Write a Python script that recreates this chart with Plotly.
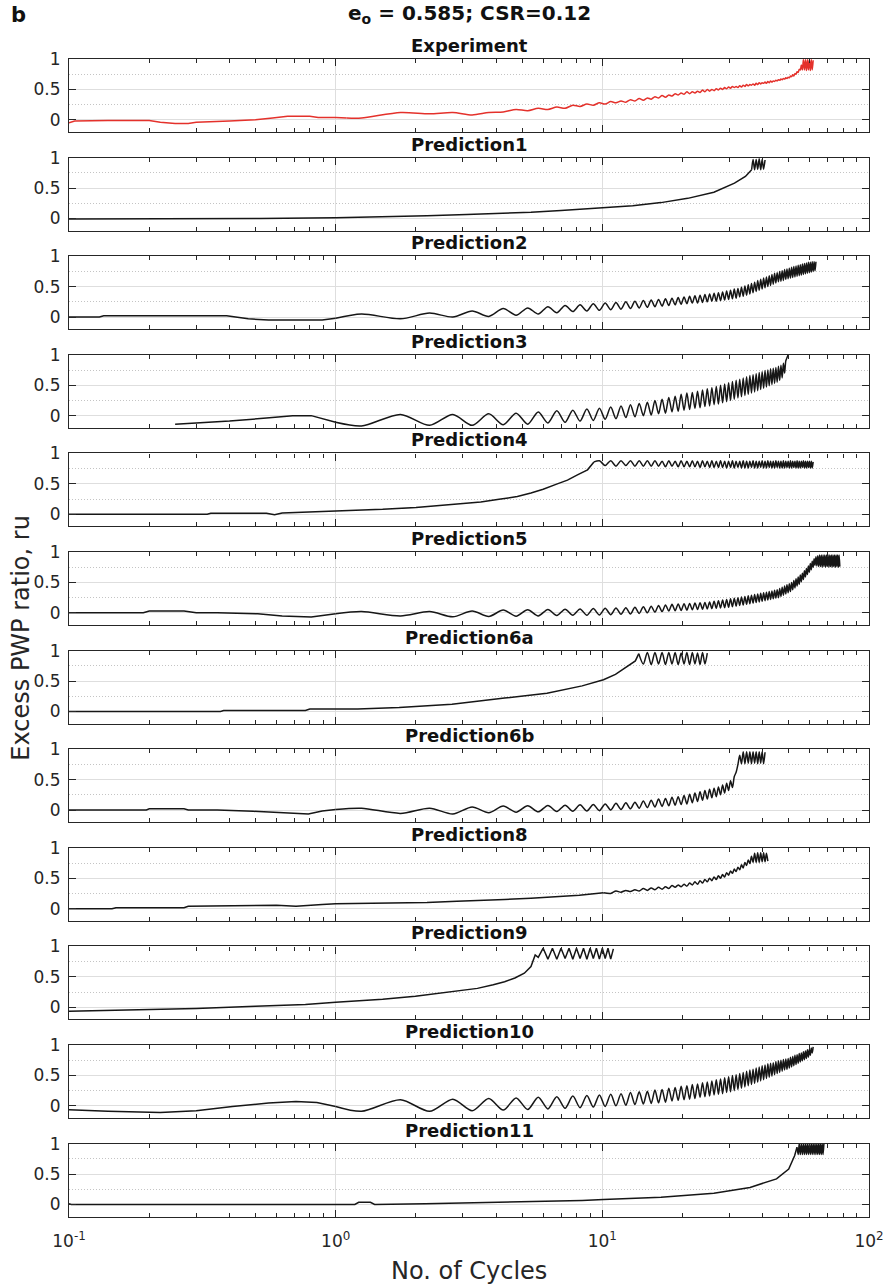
import plotly.graph_objects as go

# ---------------------------------------------------------------------------
# Data: excess pore-water-pressure ratio ru vs. number of loading cycles
# ---------------------------------------------------------------------------
TITLES = ["Experiment", "Prediction1", "Prediction2", "Prediction3", "Prediction4",
          "Prediction5", "Prediction6a", "Prediction6b", "Prediction8", "Prediction9",
          "Prediction10", "Prediction11"]

X_TICKS = [0.1, 1, 10, 100]
X_TICK_TEXT = ["10<sup>-1</sup>", "10<sup>0</sup>", "10<sup>1</sup>", "10<sup>2</sup>"]
Y_TICKS = [0, 0.5, 1]
Y_TICK_TEXT = ["0", "0.5", "1"]
Y_MINOR = [0.25, 0.75]

# half-cycle sampling points (cycles) used for the cyclic part of each record
HALF_CYCLES = [
    0.25, 0.75, 1.25, 1.75, 2.25, 2.75, 3.25, 3.75, 4.25, 4.75,
    5.25, 5.75, 6.25, 6.75, 7.25, 7.75, 8.25, 8.75, 9.25, 9.75,
    10.25, 10.75, 11.25, 11.75, 12.25, 12.75, 13.25, 13.75, 14.25, 14.75,
    15.25, 15.75, 16.25, 16.75, 17.25, 17.75, 18.25, 18.75, 19.25, 19.75,
    20.25, 20.75, 21.25, 21.75, 22.25, 22.75, 23.25, 23.75, 24.25, 24.75,
    25.25, 25.75, 26.25, 26.75, 27.25, 27.75, 28.25, 28.75, 29.25, 29.75,
    30.25, 30.75, 31.25, 31.75, 32.25, 32.75, 33.25, 33.75, 34.25, 34.75,
    35.25, 35.75, 36.25, 36.75, 37.25, 37.75, 38.25, 38.75, 39.25, 39.75,
    40.25, 40.75, 41.25, 41.75, 42.25, 42.75, 43.25, 43.75, 44.25, 44.75,
    45.25, 45.75, 46.25, 46.75, 47.25, 47.75, 48.25, 48.75, 49.25, 49.75,
    50.25, 50.75, 51.25, 51.75, 52.25, 52.75, 53.25, 53.75, 54.25, 54.75,
    55.25, 55.75, 56.25, 56.75, 57.25, 57.75, 58.25, 58.75, 59.25, 59.75,
    60.25, 60.75, 61.25, 61.75, 62.25, 62.75, 63.25, 63.75, 64.25, 64.75,
    65.25, 65.75, 66.25, 66.75, 67.25, 67.75, 68.25, 68.75, 69.25, 69.75,
    70.25, 70.75, 71.25, 71.75, 72.25, 72.75, 73.25, 73.75, 74.25, 74.75,
    75.25, 75.75, 76.25, 76.75, 77.25, 77.75, 78.25, 78.75, 79.25, 79.75,
]

# Experiment
EXP_N = [0.1, 0.105, 0.14, 0.2, 0.22, 0.25, 0.28, 0.3, 0.4, 0.5, 0.58, 0.66, 0.8, 0.86, 1.0, 1.1]
EXP_RU = [-0.05, -0.02, -0.01, -0.01, -0.04, -0.06, -0.06, -0.04, -0.02, 0.0, 0.03, 0.06, 0.06, 0.04, 0.04, 0.03]
EXP_OSC_START = 1.25
EXP_OSC = [
    0.03, 0.12, 0.10, 0.12, 0.08, 0.12, 0.13, 0.17, 0.15, 0.19,
    0.17, 0.21, 0.19, 0.24, 0.22, 0.26, 0.24, 0.28, 0.26, 0.30,
    0.28, 0.31, 0.29, 0.33, 0.31, 0.35, 0.32, 0.36, 0.34, 0.38,
    0.36, 0.40, 0.37, 0.41, 0.39, 0.43, 0.41, 0.44, 0.42, 0.46,
    0.43, 0.46, 0.44, 0.47, 0.45, 0.49, 0.46, 0.50, 0.47, 0.50,
    0.48, 0.51, 0.49, 0.52, 0.50, 0.53, 0.51, 0.54, 0.52, 0.55,
    0.53, 0.55, 0.53, 0.56, 0.54, 0.57, 0.55, 0.58, 0.56, 0.58,
    0.57, 0.59, 0.57, 0.60, 0.58, 0.61, 0.59, 0.61, 0.60, 0.62,
    0.60, 0.63, 0.61, 0.64, 0.62, 0.64, 0.63, 0.65, 0.64, 0.66,
    0.65, 0.67, 0.66, 0.68, 0.67, 0.69, 0.68, 0.70, 0.69, 0.72,
    0.71, 0.74, 0.72, 0.76, 0.75, 0.79, 0.78, 0.83, 0.82, 0.90,
    0.82, 0.99, 0.82, 0.99, 0.81, 0.99, 0.82, 0.99, 0.81, 0.99, 0.82, 0.98,
]

# Prediction1
P1_N = [0.1, 0.5, 0.52, 1.0, 1.52, 2.2, 3.1, 4.2, 5.4, 7.0, 10.1, 13.0, 16.6, 20.9, 26.2, 31.3, 34.4, 36.3]
P1_RU = [-0.01, -0.01, 0.0, 0.01, 0.025, 0.045, 0.065, 0.085, 0.1, 0.13, 0.17, 0.21, 0.26, 0.33, 0.43, 0.58, 0.69, 0.8]
P1_OSC_START = 36.75
P1_OSC = [0.97, 0.8, 0.97, 0.81, 0.98, 0.8, 0.97, 0.81, 0.96]

# Prediction2
P2_N = [0.1, 0.13, 0.135, 0.39, 0.47, 0.56, 0.89, 1.0]
P2_RU = [0.0, 0.0, 0.02, 0.02, -0.03, -0.05, -0.05, -0.02]
P2_OSC_START = 1.25
P2_OSC = [
    0.05, -0.03, 0.065, 0.0, 0.10, 0.01, 0.14, 0.03, 0.15, 0.05,
    0.17, 0.07, 0.19, 0.09, 0.20, 0.10, 0.22, 0.11, 0.23, 0.12,
    0.24, 0.13, 0.25, 0.14, 0.26, 0.15, 0.27, 0.16, 0.28, 0.17,
    0.29, 0.18, 0.30, 0.19, 0.31, 0.20, 0.32, 0.21, 0.33, 0.22,
    0.34, 0.23, 0.35, 0.23, 0.36, 0.24, 0.37, 0.25, 0.38, 0.26,
    0.39, 0.26, 0.40, 0.27, 0.41, 0.28, 0.43, 0.29, 0.44, 0.30,
    0.46, 0.31, 0.47, 0.33, 0.49, 0.34, 0.51, 0.36, 0.53, 0.38,
    0.55, 0.40, 0.57, 0.42, 0.60, 0.44, 0.62, 0.46, 0.64, 0.48,
    0.66, 0.50, 0.68, 0.52, 0.70, 0.54, 0.72, 0.56, 0.73, 0.58,
    0.75, 0.59, 0.76, 0.60, 0.78, 0.62, 0.79, 0.63, 0.80, 0.64,
    0.82, 0.65, 0.83, 0.66, 0.84, 0.67, 0.85, 0.68, 0.86, 0.69,
    0.87, 0.70, 0.88, 0.71, 0.89, 0.72, 0.90, 0.73, 0.90, 0.74,
    0.91, 0.75, 0.91, 0.76, 0.91,
]

# Prediction3
P3_N = [0.25, 0.4, 0.55, 0.69, 0.81, 1.0]
P3_RU = [-0.14, -0.09, -0.04, 0.0, 0.0, -0.11]
P3_OSC_START = 1.25
P3_OSC = [
    -0.17, 0.02, -0.16, 0.02, -0.16, 0.03, -0.15, 0.04, -0.14, 0.06,
    -0.12, 0.08, -0.11, 0.09, -0.09, 0.11, -0.08, 0.12, -0.06, 0.14,
    -0.05, 0.16, -0.03, 0.18, -0.02, 0.20, 0.0, 0.22, 0.01, 0.25,
    0.03, 0.27, 0.04, 0.30, 0.06, 0.32, 0.07, 0.35, 0.09, 0.37,
    0.10, 0.38, 0.12, 0.40, 0.13, 0.42, 0.15, 0.44, 0.16, 0.46,
    0.18, 0.48, 0.19, 0.50, 0.21, 0.52, 0.23, 0.54, 0.25, 0.56,
    0.27, 0.58, 0.29, 0.60, 0.31, 0.62, 0.33, 0.64, 0.35, 0.66,
    0.37, 0.67, 0.39, 0.69, 0.41, 0.71, 0.43, 0.72, 0.45, 0.74,
    0.47, 0.75, 0.49, 0.77, 0.51, 0.78, 0.53, 0.79, 0.55, 0.81,
    0.58, 0.83, 0.62, 0.86, 0.70, 0.90, 0.95, 1.0,
]

# Prediction4
P4_N = [0.1, 0.33, 0.34, 0.55, 0.59, 0.63, 1.0, 1.5, 2.0, 2.85, 3.5, 4.1, 4.8, 5.4, 6.0, 6.7, 7.4, 8.1, 8.8, 9.3]
P4_RU = [0.0, 0.0, 0.015, 0.015, -0.01, 0.02, 0.055, 0.08, 0.11, 0.16, 0.2, 0.245, 0.29, 0.35, 0.41, 0.49, 0.56, 0.65, 0.73, 0.86]
P4_OSC_START = 9.75
P4_OSC = [
    0.88,
    0.80, 0.88, 0.79, 0.88, 0.80, 0.88, 0.79, 0.88, 0.79, 0.88,
    0.79, 0.88, 0.79, 0.87, 0.78, 0.88, 0.79, 0.87, 0.78, 0.88,
    0.78, 0.87, 0.78, 0.88, 0.78, 0.87, 0.77, 0.88, 0.78, 0.87,
    0.77, 0.88, 0.77, 0.87, 0.77, 0.88, 0.77, 0.87, 0.76, 0.87,
    0.77, 0.88, 0.76, 0.87, 0.77, 0.87, 0.76, 0.88, 0.76, 0.87,
    0.76, 0.87, 0.77, 0.88, 0.76, 0.87, 0.76, 0.87, 0.77, 0.88,
    0.76, 0.87, 0.76, 0.88, 0.77, 0.87, 0.76, 0.87, 0.76, 0.88,
    0.77, 0.87, 0.76, 0.87, 0.76, 0.88, 0.76, 0.87, 0.77, 0.87,
    0.76, 0.88, 0.76, 0.87, 0.77, 0.87, 0.76, 0.88, 0.76, 0.87,
    0.76, 0.87, 0.77, 0.88, 0.76, 0.87, 0.76, 0.87, 0.77, 0.87,
    0.76, 0.87, 0.76, 0.86,
]

# Prediction5
P5_N = [0.1, 0.19, 0.2, 0.27, 0.3, 0.36, 0.51, 0.63, 0.81, 0.89, 1.0]
P5_RU = [0.0, 0.0, 0.03, 0.03, 0.0, 0.0, -0.015, -0.05, -0.07, -0.04, -0.015]
P5_OSC_START = 1.25
P5_OSC = [
    0.02, -0.05, 0.02, -0.065, 0.03, -0.06, 0.045, -0.055, 0.05, -0.05,
    0.055, -0.045, 0.06, -0.04, 0.065, -0.04, 0.07, -0.035, 0.075, -0.03,
    0.08, -0.025, 0.085, -0.02, 0.09, -0.01, 0.10, 0.0, 0.11, 0.01,
    0.12, 0.02, 0.13, 0.03, 0.14, 0.035, 0.145, 0.04, 0.15, 0.045,
    0.155, 0.05, 0.16, 0.055, 0.165, 0.06, 0.17, 0.065, 0.18, 0.07,
    0.19, 0.075, 0.20, 0.08, 0.21, 0.085, 0.22, 0.09, 0.23, 0.10,
    0.24, 0.11, 0.25, 0.12, 0.26, 0.13, 0.27, 0.14, 0.28, 0.15,
    0.29, 0.16, 0.30, 0.17, 0.31, 0.18, 0.32, 0.19, 0.33, 0.20,
    0.34, 0.21, 0.35, 0.22, 0.36, 0.23, 0.37, 0.24, 0.38, 0.25,
    0.40, 0.27, 0.42, 0.29, 0.44, 0.31, 0.46, 0.33, 0.48, 0.35,
    0.50, 0.38, 0.53, 0.41, 0.56, 0.44, 0.59, 0.47, 0.62, 0.51,
    0.65, 0.55, 0.69, 0.59, 0.73, 0.63, 0.77, 0.67, 0.81, 0.71,
    0.85, 0.75, 0.89, 0.78, 0.92, 0.77, 0.94, 0.76, 0.95, 0.76,
    0.95, 0.75, 0.95, 0.76, 0.95, 0.75, 0.95, 0.76, 0.95, 0.75,
    0.95, 0.76, 0.95, 0.75, 0.95, 0.76, 0.95, 0.75, 0.95, 0.76,
    0.95, 0.75, 0.95, 0.76,
]

# Prediction6a
P6A_N = [0.1, 0.37, 0.38, 0.77, 0.8, 1.21, 1.73, 2.73, 4.3, 6.2, 8.4, 10.1, 11.2, 12.1, 12.8, 13.3, 13.7]
P6A_RU = [0.0, 0.0, 0.015, 0.015, 0.04, 0.04, 0.065, 0.12, 0.22, 0.30, 0.42, 0.52, 0.61, 0.71, 0.77, 0.83, 0.95]
P6A_OSC_START = 14.25
P6A_OSC = [0.78, 0.97, 0.77, 0.97, 0.78, 0.97, 0.77, 0.97, 0.78, 0.97, 0.77,
           0.96, 0.78, 0.97, 0.77, 0.97, 0.78, 0.96, 0.77, 0.97, 0.78, 0.96]

# Prediction6b
P6B_N = [0.1, 0.195, 0.2, 0.27, 0.28, 0.36, 0.49, 0.62, 0.79, 0.89, 1.0]
P6B_RU = [0.0, 0.0, 0.02, 0.02, 0.0, 0.0, -0.02, -0.045, -0.065, -0.015, 0.01]
P6B_OSC_START = 1.25
P6B_OSC = [
    0.03, -0.055, 0.03, -0.065, 0.05, -0.045, 0.065, -0.035, 0.07, -0.03,
    0.075, -0.025, 0.08, -0.02, 0.085, -0.015, 0.09, -0.01, 0.10, 0.0,
    0.11, 0.01, 0.12, 0.02, 0.13, 0.03, 0.15, 0.04, 0.16, 0.05,
    0.18, 0.06, 0.19, 0.07, 0.21, 0.08, 0.22, 0.09, 0.24, 0.10,
    0.26, 0.12, 0.28, 0.14, 0.30, 0.16, 0.32, 0.18, 0.34, 0.20,
    0.36, 0.22, 0.38, 0.25, 0.41, 0.28, 0.44, 0.32, 0.48, 0.37,
    0.55, 0.62, 0.75, 0.90, 0.76, 0.96, 0.76, 0.96, 0.77, 0.96,
    0.76, 0.96, 0.77, 0.96, 0.76, 0.96, 0.77, 0.96, 0.76, 0.95,
]

# Prediction8
P8_N = [0.1, 0.145, 0.15, 0.27, 0.28, 0.49, 0.6, 0.71, 0.8, 0.89, 1.0, 1.3, 1.73, 2.2, 2.85, 3.5, 4.3, 5.4, 6.7, 8.2, 10.1]
P8_RU = [0.0, 0.0, 0.015, 0.015, 0.04, 0.055, 0.055, 0.04, 0.06, 0.07, 0.08, 0.085, 0.09, 0.10, 0.12, 0.13, 0.15, 0.17, 0.19, 0.22, 0.26]
P8_OSC_START = 10.75
P8_OSC = [
    0.25,
    0.29, 0.27, 0.30, 0.28, 0.31, 0.29, 0.33, 0.30, 0.34, 0.31,
    0.35, 0.32, 0.36, 0.33, 0.38, 0.35, 0.39, 0.36, 0.40, 0.37,
    0.42, 0.39, 0.44, 0.40, 0.46, 0.42, 0.48, 0.44, 0.50, 0.46,
    0.52, 0.48, 0.54, 0.50, 0.56, 0.52, 0.59, 0.55, 0.62, 0.58,
    0.65, 0.61, 0.68, 0.64, 0.72, 0.67, 0.76, 0.71, 0.80, 0.74,
    0.86, 0.76, 0.91, 0.76, 0.92, 0.76, 0.92, 0.77, 0.92, 0.77,
    0.91, 0.78,
]

# Prediction9 (twice-per-cycle spikes after liquefaction)
P9_N = [0.1, 0.18, 0.3, 0.5, 0.77, 1.0, 1.5, 1.99, 2.85, 3.4,
        3.9, 4.3, 4.7, 5.1, 5.4, 5.6, 5.75, 5.9, 6.0,
        6.25, 6.5, 6.75, 7.0, 7.25, 7.5, 7.75, 8.0, 8.25, 8.5,
        8.75, 9.0, 9.25, 9.5, 9.75, 10.0, 10.25, 10.5, 10.75, 11.0]
P9_RU = [-0.065, -0.04, -0.02, 0.015, 0.045, 0.08, 0.13, 0.18, 0.26, 0.31,
         0.37, 0.42, 0.48, 0.56, 0.67, 0.86, 0.82, 0.9, 0.97,
         0.79, 0.97, 0.79, 0.97, 0.8, 0.97, 0.79, 0.97, 0.8, 0.97,
         0.79, 0.97, 0.8, 0.97, 0.79, 0.97, 0.8, 0.97, 0.79, 0.96]
P9_OSC_START = None
P9_OSC = []

# Prediction10
P10_N = [0.1, 0.14, 0.22, 0.3, 0.41, 0.56, 0.71, 0.85, 1.0]
P10_RU = [-0.065, -0.09, -0.11, -0.08, -0.01, 0.045, 0.07, 0.055, -0.01]
P10_OSC_START = 1.25
P10_OSC = [
    -0.09, 0.10, -0.09, 0.11, -0.08, 0.12, -0.07, 0.13, -0.06, 0.14,
    -0.05, 0.15, -0.04, 0.16, -0.03, 0.17, -0.02, 0.18, -0.01, 0.19,
    0.0, 0.20, 0.01, 0.22, 0.02, 0.23, 0.03, 0.24, 0.04, 0.26,
    0.05, 0.27, 0.06, 0.29, 0.08, 0.30, 0.09, 0.32, 0.10, 0.33,
    0.11, 0.35, 0.12, 0.36, 0.14, 0.38, 0.15, 0.39, 0.16, 0.41,
    0.18, 0.43, 0.19, 0.44, 0.20, 0.46, 0.22, 0.48, 0.23, 0.50,
    0.25, 0.51, 0.27, 0.53, 0.29, 0.55, 0.31, 0.57, 0.33, 0.59,
    0.35, 0.60, 0.37, 0.62, 0.39, 0.64, 0.41, 0.66, 0.43, 0.67,
    0.45, 0.69, 0.47, 0.70, 0.49, 0.71, 0.51, 0.73, 0.53, 0.74,
    0.55, 0.75, 0.57, 0.76, 0.59, 0.77, 0.60, 0.78, 0.62, 0.80,
    0.64, 0.81, 0.66, 0.83, 0.68, 0.84, 0.70, 0.86, 0.72, 0.87,
    0.74, 0.89, 0.76, 0.90, 0.78, 0.92, 0.80, 0.93, 0.83, 0.95, 0.87, 0.97,
]

# Prediction11
P11_N = [0.1, 0.102, 1.18, 1.22, 1.35, 1.4, 2.17, 4.3, 8.4, 10.1, 16.6, 26.2, 35.8, 45.0, 50.0, 52.6, 53.7]
P11_RU = [0.01, 0.0, 0.0, 0.035, 0.035, 0.0, 0.01, 0.035, 0.065, 0.08, 0.12, 0.185, 0.28, 0.42, 0.58, 0.8, 0.94]
P11_OSC_START = 54.25
P11_OSC = [0.82, 1.0, 0.82, 1.0, 0.82, 1.0, 0.82, 1.0, 0.82, 1.0, 0.82, 1.0, 0.82, 1.0,
           0.82, 1.0, 0.82, 1.0, 0.82, 1.0, 0.82, 1.0, 0.82, 1.0, 0.82, 1.0, 0.82, 1.0]

# ---------------------------------------------------------------------------
RED = "#e4312b"
BLACK = "#161616"
AXIS_COL = "#262626"
GRID_COL = "#dedede"
MINOR_GRID_COL = "#c4c4c4"
FONT = "DejaVu Sans"

records = [
    (EXP_N, EXP_RU, EXP_OSC_START, EXP_OSC, RED),
    (P1_N, P1_RU, P1_OSC_START, P1_OSC, BLACK),
    (P2_N, P2_RU, P2_OSC_START, P2_OSC, BLACK),
    (P3_N, P3_RU, P3_OSC_START, P3_OSC, BLACK),
    (P4_N, P4_RU, P4_OSC_START, P4_OSC, BLACK),
    (P5_N, P5_RU, P5_OSC_START, P5_OSC, BLACK),
    (P6A_N, P6A_RU, P6A_OSC_START, P6A_OSC, BLACK),
    (P6B_N, P6B_RU, P6B_OSC_START, P6B_OSC, BLACK),
    (P8_N, P8_RU, P8_OSC_START, P8_OSC, BLACK),
    (P9_N, P9_RU, P9_OSC_START, P9_OSC, BLACK),
    (P10_N, P10_RU, P10_OSC_START, P10_OSC, BLACK),
    (P11_N, P11_RU, P11_OSC_START, P11_OSC, BLACK),
]

W, H = 896, 1284
M_L, M_R, M_T, M_B = 69, 16, 59, 67
PLOT_H = H - M_T - M_B
PLOT_W = W - M_L - M_R
PANEL_H = 73.0
PITCH = 98.6
n_panels = len(records)

fig = go.Figure()
layout = dict(
    width=W, height=H,
    margin=dict(l=M_L, r=M_R, t=M_T, b=M_B, pad=0),
    paper_bgcolor="white", plot_bgcolor="white",
    showlegend=False,
    font=dict(family=FONT, color=AXIS_COL),
)
annotations = []

for k, (n_pre, ru_pre, osc_start, osc_vals, colour) in enumerate(records):
    sfx = "" if k == 0 else str(k + 1)
    # monotonic build-up part: straight segments keep the small steps crisp
    fig.add_trace(go.Scatter(
        x=n_pre, y=ru_pre, mode="lines", xaxis="x" + sfx, yaxis="y" + sfx,
        line=dict(color=colour, width=1.5), hoverinfo="skip",
    ))
    # cyclic part: smooth curve through the half-cycle extremes
    if osc_vals:
        i0 = HALF_CYCLES.index(osc_start)
        xs = [n_pre[-1]] + HALF_CYCLES[i0:i0 + len(osc_vals)]
        ys = [ru_pre[-1]] + list(osc_vals)
        fig.add_trace(go.Scatter(
            x=xs, y=ys, mode="lines", xaxis="x" + sfx, yaxis="y" + sfx,
            line=dict(color=colour, width=1.5, shape="spline", smoothing=0.8),
            hoverinfo="skip",
        ))
    top_px = k * PITCH
    bot_px = top_px + PANEL_H
    dom = [1 - bot_px / PLOT_H, 1 - top_px / PLOT_H]
    last = k == n_panels - 1
    layout["xaxis" + sfx] = dict(
        type="log", range=[-1, 2], domain=[0, 1], anchor="y" + sfx,
        tickmode="array", tickvals=X_TICKS, ticktext=X_TICK_TEXT,
        showticklabels=last, ticks="inside", ticklen=7, tickwidth=1, tickcolor=AXIS_COL,
        showline=True, linecolor=AXIS_COL, linewidth=1.2, mirror="allticks",
        showgrid=True, gridcolor=GRID_COL, gridwidth=1, zeroline=False,
        minor=dict(ticks="inside", ticklen=4, tickwidth=1, tickcolor=AXIS_COL,
                   dtick="D1", showgrid=False),
        tickfont=dict(family=FONT, size=17, color=AXIS_COL),
        ticklabelstandoff=9,
    )
    layout["yaxis" + sfx] = dict(
        range=[-0.2, 1], domain=dom, anchor="x" + sfx,
        tickmode="array", tickvals=Y_TICKS, ticktext=Y_TICK_TEXT,
        ticks="inside", ticklen=7, tickwidth=1, tickcolor=AXIS_COL,
        showline=True, linecolor=AXIS_COL, linewidth=1.2, mirror="allticks",
        showgrid=True, gridcolor=GRID_COL, gridwidth=1, zeroline=False,
        minor=dict(tickmode="array", tickvals=Y_MINOR, ticks="", showgrid=True,
                   gridcolor=MINOR_GRID_COL, griddash="1px,2px", gridwidth=1),
        tickfont=dict(family=FONT, size=17, color=AXIS_COL),
        ticklabelstandoff=4,
    )
    annotations.append(dict(
        text="<b>%s</b>" % TITLES[k], xref="paper", yref="paper",
        x=0.5, y=dom[1], xanchor="center", yanchor="bottom", yshift=1,
        showarrow=False, font=dict(family=FONT, size=18, color="#111111"),
    ))

# overall title, panel letter and axis titles
annotations.append(dict(
    text="<b>e<sub>o</sub> = 0.585; CSR=0.12</b>", xref="paper", yref="paper",
    x=0.5, y=1, xanchor="center", yanchor="middle", yshift=45,
    showarrow=False, font=dict(family=FONT, size=20, color="#111111"),
))
annotations.append(dict(
    text="<b>b</b>", xref="paper", yref="paper",
    x=(8 - M_L) / PLOT_W, y=1, xanchor="left", yanchor="middle", yshift=44,
    showarrow=False, font=dict(family=FONT, size=21, color="#111111"),
))
annotations.append(dict(
    text="No. of Cycles", xref="paper", yref="paper",
    x=0.5, y=0, xanchor="center", yanchor="middle", yshift=-54,
    showarrow=False, font=dict(family=FONT, size=24, color=AXIS_COL),
))
annotations.append(dict(
    text="Excess PWP ratio, ru", xref="paper", yref="paper", textangle=-90,
    x=(20 - M_L) / PLOT_W, y=0.5, xanchor="center", yanchor="middle",
    showarrow=False, font=dict(family=FONT, size=24, color=AXIS_COL),
))

layout["annotations"] = annotations
fig.update_layout(**layout)
fig.write_html("out.html")
